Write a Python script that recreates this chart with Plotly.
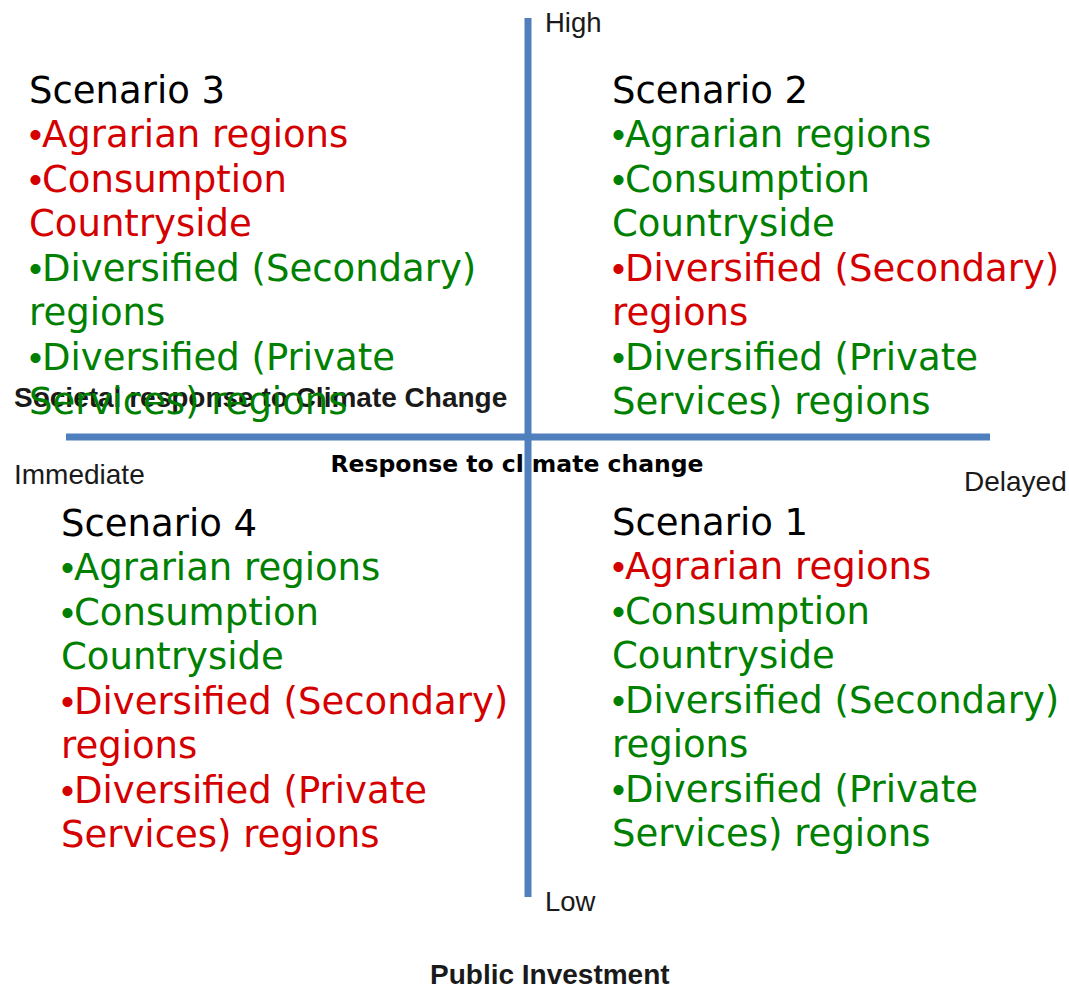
import plotly.graph_objects as go

# ---- data ----
scenarios = ["Scenario 3", "Scenario 2", "Scenario 4", "Scenario 1"]
region_lines = [
    ["•Agrarian regions"],
    ["•Consumption", "Countryside"],
    ["•Diversified (Secondary)", "regions"],
    ["•Diversified (Private", "Services) regions"],
]
# 1 = positive (green), 0 = negative (red), per scenario, per region type
status_s3 = [0, 0, 1, 1]
status_s2 = [1, 1, 0, 1]
status_s4 = [1, 1, 0, 0]
status_s1 = [0, 1, 1, 1]
statuses = [status_s3, status_s2, status_s4, status_s1]

axis_v_label_top = "High"
axis_v_label_bottom = "Low"
axis_h_label_left = "Immediate"
axis_h_label_right = "Delayed"
title_left = "Societal response to Climate Change"
title_center = "Response to climate change"
title_bottom = "Public Investment"

# ---- layout geometry (pixel-like data space) ----
W, H = 1069, 988
v_x, v_y0, v_y1 = 528, 18, 897
h_y, h_x0, h_x1 = 437, 66, 990
block_origin = [(27, 90), (610, 90), (59, 523), (610, 522)]
line_step = 44.5

GREEN = "#008000"
RED = "#d40000"
BLUE = "#4f80bd"
BODY_FONT = "DejaVu Sans, Verdana, sans-serif"
LABEL_FONT = "Liberation Sans, Arial, sans-serif"

fig = go.Figure()

# center label under the vertical axis line
fig.add_trace(go.Scatter(
    x=[517], y=[466], mode="text", text=[title_center],
    textposition="middle center",
    textfont=dict(family=BODY_FONT, size=23.5, color="#000000", weight="bold"),
    hoverinfo="skip", showlegend=False))

# axis lines
fig.add_trace(go.Scatter(x=[h_x0, h_x1], y=[h_y, h_y], mode="lines",
                         line=dict(color=BLUE, width=7), hoverinfo="skip", showlegend=False))
fig.add_trace(go.Scatter(x=[v_x, v_x], y=[v_y0, v_y1], mode="lines",
                         line=dict(color=BLUE, width=7), hoverinfo="skip", showlegend=False))

annotations = []

def label(text, x, y, size, bold=False, xanchor="left", family=LABEL_FONT, color="#1a1a1a"):
    annotations.append(dict(
        x=x, y=y, xref="x", yref="y", text=text, showarrow=False,
        xanchor=xanchor, yanchor="middle",
        font=dict(family=family, size=size, color=color, weight="bold" if bold else "normal")))

label(axis_v_label_top, 543, 22, 27.5)
label(axis_v_label_bottom, 543, 901, 27.5)
label(axis_h_label_left, 12, 474, 28)
label(axis_h_label_right, 962, 481, 28)
label(title_left, 12, 397, 28, bold=True)
label(title_bottom, 550, 974, 28, bold=True, xanchor="center")

def narrow_bullet(txt):
    if txt.startswith("•"):
        return '<span style="font-family:Liberation Sans">•</span>' + txt[1:]
    return txt

# quadrant text blocks
for name, st, (x0, y0) in zip(scenarios, statuses, block_origin):
    rows = [(name, "#000000")]
    for lines, s in zip(region_lines, st):
        for ln in lines:
            rows.append((ln, GREEN if s else RED))
    for i, (txt, col) in enumerate(rows):
        label(narrow_bullet(txt), x0, y0 + i * line_step, 37, family=BODY_FONT, color=col)

fig.update_layout(
    width=W, height=H,
    margin=dict(l=0, r=0, t=0, b=0),
    paper_bgcolor="white", plot_bgcolor="white",
    xaxis=dict(range=[0, W], visible=False, fixedrange=True),
    yaxis=dict(range=[H, 0], visible=False, fixedrange=True),
    annotations=annotations,
    showlegend=False,
)

fig.write_html("out.html", config={"displayModeBar": False},
               post_script="document.body.style.margin='0px';document.body.style.overflow='hidden';")
